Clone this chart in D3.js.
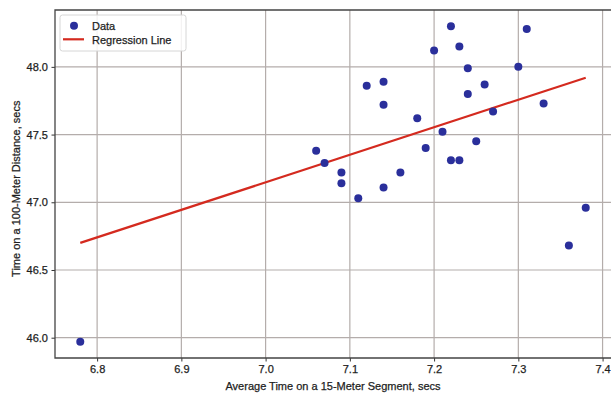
<!DOCTYPE html>
<html>
<head>
<meta charset="utf-8">
<script src="https://cdn.jsdelivr.net/npm/d3@7"></script>
<style>
  body { margin: 0; background: #fff; }
  text { font-family: "Liberation Sans", Arial, sans-serif; fill: #1e1e1e; stroke: #1e1e1e; stroke-width: 0.25px; }
</style>
</head>
<body>
<div id="chart"></div>
<script>
// points
const segTimes = [7.22, 7.31, 7.20, 7.23, 7.24, 7.30, 7.12, 7.14, 7.26, 7.24,
  7.14, 7.33, 7.27, 7.18, 7.21, 7.06, 7.19, 7.25, 7.07, 7.22,
  7.23, 7.09, 7.16, 7.09, 7.14, 7.11, 7.38, 7.36, 6.78];
const distTimes = [48.30, 48.28, 48.12, 48.15, 47.99, 48.00, 47.86, 47.89, 47.87, 47.80,
  47.72, 47.73, 47.67, 47.62, 47.52, 47.38, 47.40, 47.45, 47.29, 47.31,
  47.31, 47.22, 47.22, 47.14, 47.11, 47.03, 46.96, 46.68, 45.97];

// regression line end points
const lineX = [6.78, 7.38];
const lineY = [46.70, 47.92];

const xTicks = [6.8, 6.9, 7.0, 7.1, 7.2, 7.3, 7.4];
const yTicks = [46.0, 46.5, 47.0, 47.5, 48.0];

const W = 611, H = 394;
const margin = { top: 10, right: 0, bottom: 36, left: 55 };
const width = 556, height = 348;

const svg = d3.select('#chart').append('svg')
  .attr('width', W)
  .attr('height', H);

const g = svg.append('g')
  .attr('transform', `translate(${margin.left},${margin.top})`);

const x = d3.scaleLinear().domain([6.75, 7.41]).range([0, width]);
const y = d3.scaleLinear().domain([45.85, 48.42]).range([height, 0]);

// grid
g.append('g').selectAll('line')
  .data(xTicks)
  .enter().append('line')
  .attr('x1', d => x(d)).attr('x2', d => x(d))
  .attr('y1', 0).attr('y2', height)
  .attr('stroke', '#b4adab').attr('stroke-width', 1.2);

g.append('g').selectAll('line')
  .data(yTicks)
  .enter().append('line')
  .attr('x1', 0).attr('x2', width)
  .attr('y1', d => y(d)).attr('y2', d => y(d))
  .attr('stroke', '#b4adab').attr('stroke-width', 1.2);

// axes
const xAxis = g.append('g')
  .attr('transform', `translate(0,${height})`)
  .call(d3.axisBottom(x).tickValues(xTicks).tickFormat(d3.format('.1f')).tickSize(3.5).tickPadding(3.5));
const yAxis = g.append('g')
  .call(d3.axisLeft(y).tickValues(yTicks).tickFormat(d3.format('.1f')).tickSize(3.5).tickPadding(3.5));

[xAxis, yAxis].forEach(a => {
  a.select('.domain').remove();
  a.selectAll('line').attr('stroke', '#333').attr('stroke-width', 1);
  a.selectAll('text').style('font-size', '11px').style('font-family', '"Liberation Sans", Arial, sans-serif')
    .attr('fill', '#1e1e1e').attr('stroke', '#1e1e1e').attr('stroke-width', 0.25);
});

// spines: left, top, bottom (right one falls just outside the frame)
g.append('path')
  .attr('d', `M${width + 2},0H0V${height}H${width + 2}`)
  .attr('fill', 'none')
  .attr('stroke', '#444')
  .attr('stroke-width', 1.3);

// regression line
const line = d3.line().x(d => x(d[0])).y(d => y(d[1]));
g.append('path')
  .datum(lineX.map((v, i) => [v, lineY[i]]))
  .attr('d', line)
  .attr('fill', 'none')
  .attr('stroke', '#d42a1f')
  .attr('stroke-width', 2.2);

// points
g.append('g').selectAll('circle')
  .data(segTimes.map((v, i) => [v, distTimes[i]]))
  .enter().append('circle')
  .attr('cx', d => x(d[0]))
  .attr('cy', d => y(d[1]))
  .attr('r', 4)
  .attr('fill', '#2a2f9b');

// legend
const legend = svg.append('g').attr('transform', 'translate(60,15)');
legend.append('rect')
  .attr('width', 126).attr('height', 36)
  .attr('rx', 2.5)
  .attr('fill', 'rgba(255,255,255,0.85)')
  .attr('stroke', '#d6d6d6');
legend.append('circle')
  .attr('cx', 14).attr('cy', 10.7).attr('r', 4)
  .attr('fill', '#2a2f9b');
legend.append('line')
  .attr('x1', 3).attr('x2', 24).attr('y1', 24.3).attr('y2', 24.3)
  .attr('stroke', '#d42a1f').attr('stroke-width', 2.2);
legend.append('text')
  .attr('x', 32).attr('y', 14.5)
  .style('font-size', '11px')
  .text('Data');
legend.append('text')
  .attr('x', 32).attr('y', 28.5)
  .style('font-size', '11px')
  .text('Regression Line');

// axis labels
svg.append('text')
  .attr('x', margin.left + x(7.08))
  .attr('y', 390)
  .attr('text-anchor', 'middle')
  .style('font-size', '11px')
  .text('Average Time on a 15-Meter Segment, secs');

svg.append('text')
  .attr('transform', `translate(20,${margin.top + y(47.1)}) rotate(-90)`)
  .attr('text-anchor', 'middle')
  .style('font-size', '11px')
  .text('Time on a 100-Meter Distance, secs');
</script>
</body>
</html>
